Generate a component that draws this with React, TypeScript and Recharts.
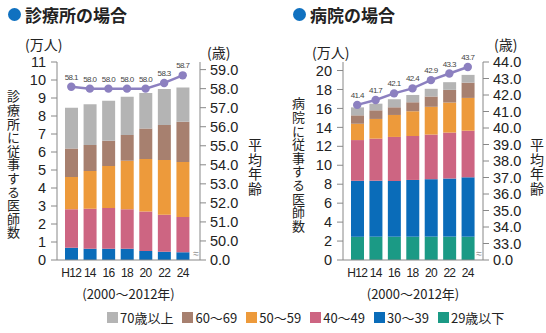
import React from 'react'
import { ComposedChart, Bar, Line, XAxis, YAxis, LabelList } from 'recharts'

const years = ['H12', '14', '16', '18', '20', '22', '24']
const ageGroups = ['29歳以下', '30〜39', '40〜49', '50〜59', '60〜69', '70歳以上']
const groupColors = ['#1b9a85', '#0a6cb9', '#cd6582', '#ed9a3b', '#a7806f', '#b4b4b4']

// 診療所 (万人)
const clinicUnder29 = [0, 0, 0, 0, 0, 0, 0]
const clinic30s = [0.68, 0.63, 0.63, 0.63, 0.5, 0.46, 0.43]
const clinic40s = [2.14, 2.22, 2.26, 2.19, 2.19, 2.06, 1.96]
const clinic50s = [1.79, 2.09, 2.33, 2.7, 2.92, 3.04, 3.05]
const clinic60s = [1.59, 1.45, 1.41, 1.42, 1.69, 1.94, 2.24]
const clinic70plus = [2.26, 2.26, 2.22, 2.13, 1.98, 2.0, 1.91]
const clinicAge = [58.1, 58.0, 58.0, 58.0, 58.0, 58.3, 58.7]

// 病院 (万人)
const hospUnder29 = [2.45, 2.46, 2.46, 2.46, 2.47, 2.47, 2.46]
const hosp30s = [5.91, 5.91, 5.88, 5.99, 6.06, 6.13, 6.27]
const hosp40s = [4.3, 4.44, 4.65, 4.64, 4.71, 4.85, 4.92]
const hosp50s = [1.72, 2.08, 2.32, 2.61, 2.93, 3.17, 3.46]
const hosp60s = [0.89, 0.91, 0.81, 0.95, 1.09, 1.34, 1.61]
const hosp70plus = [0.84, 0.7, 0.85, 0.77, 0.81, 0.81, 0.82]
const hospAge = [41.4, 41.7, 42.1, 42.4, 42.9, 43.3, 43.7]

const clinicCountTicks = [0, 1, 2, 3, 4, 5, 6, 7, 8, 9, 10, 11]
const clinicAgeTicks = [49, 50, 51, 52, 53, 54, 55, 56, 57, 58, 59]
const hospCountTicks = [0, 2, 4, 6, 8, 10, 12, 14, 16, 18, 20]
const hospAgeTicks = [32, 33, 34, 35, 36, 37, 38, 39, 40, 41, 42, 43, 44]

const buildRows = (groups: number[][], age: number[]) =>
  years.map((year, i) => {
    const row: any = { year, age: age[i] }
    groups.forEach((g, k) => (row['g' + k] = g[i]))
    return row
  })

const clinicData = buildRows(
  [clinicUnder29, clinic30s, clinic40s, clinic50s, clinic60s, clinic70plus],
  clinicAge
)
const hospData = buildRows(
  [hospUnder29, hosp30s, hosp40s, hosp50s, hosp60s, hosp70plus],
  hospAge
)

const NUM = "'Liberation Sans', Arial, sans-serif"
const JP = "'Noto Sans CJK JP', sans-serif"
const NARROW = "'Liberation Sans Narrow', 'Liberation Sans', sans-serif"

const AgeTick = (props: any) => {
  const { x, y, payload, min } = props
  const isBreak = payload.value === min
  return (
    <g>
      <text x={x} y={y} dy="0.36em" textAnchor="start" fontSize={14.5} fill="#222" fontFamily={NUM}>
        {isBreak ? '0.0' : Number(payload.value).toFixed(1)}
      </text>
      {isBreak && (
        <text x={x - 14} y={y - 7} dy="0.36em" textAnchor="middle" fontSize={10} fill="#888" fontFamily={NUM}>
          ≈
        </text>
      )}
    </g>
  )
}

interface PanelProps {
  data: any[]
  left: number
  leftWidth: number
  rightWidth: number
  countMax: number
  countTicks: number[]
  ageDomain: [number, number]
  ageTicks: number[]
  padding: { left: number; right: number }
}

function Panel({ data, left, leftWidth, rightWidth, countMax, countTicks, ageDomain, ageTicks, padding }: PanelProps) {
  return (
    <div style={{ position: 'absolute', left, top: 0 }}>
      <ComposedChart width={273} height={310} data={data} margin={{ top: 62, right: 0, bottom: 0, left: 0 }} barCategoryGap={0}>
        <XAxis
          dataKey="year"
          height={50}
          padding={padding}
          interval={0}
          tickLine={false}
          tickSize={0}
          tickMargin={8}
          stroke="#888"
          tick={{ fontSize: 12, fill: '#222', fontFamily: NARROW, letterSpacing: -0.7 }}
          label={{ value: '(2000〜2012年)', position: 'insideBottom', offset: 11, fontSize: 13, fill: '#222', fontFamily: JP }}
        />
        <YAxis
          yAxisId="count"
          width={leftWidth}
          domain={[0, countMax]}
          ticks={countTicks}
          allowDataOverflow
          interval={0}
          stroke="#888"
          tickSize={6}
          tickMargin={5}
          tick={{ fontSize: 14.5, fill: '#222', fontFamily: NUM }}
        />
        <YAxis
          yAxisId="age"
          orientation="right"
          width={rightWidth}
          domain={ageDomain}
          ticks={ageTicks}
          allowDataOverflow
          interval={0}
          stroke="#888"
          tickSize={6}
          tickMargin={4}
          tick={<AgeTick min={ageDomain[0]} />}
        />
        {ageGroups.map((name, k) => (
          <Bar
            key={name}
            yAxisId="count"
            dataKey={'g' + k}
            name={name}
            stackId="a"
            fill={groupColors[k]}
            barSize={13}
            isAnimationActive={false}
          />
        ))}
        <Line
          yAxisId="age"
          dataKey="age"
          stroke="#8c80c0"
          strokeWidth={2.5}
          dot={{ r: 4.2, fill: '#8c80c0', stroke: '#8c80c0', strokeWidth: 0 }}
          isAnimationActive={false}
        >
          <LabelList
            dataKey="age"
            position="top"
            offset={7}
            formatter={(v: any) => Number(v).toFixed(1)}
            style={{ fontSize: 8, fill: '#444', fontFamily: NARROW, letterSpacing: -0.6 }}
          />
        </Line>
      </ComposedChart>
    </div>
  )
}

const textBase: React.CSSProperties = { position: 'absolute', fontFamily: JP, color: '#222', whiteSpace: 'nowrap', lineHeight: 1 }

const Title = ({ x, text }: { x: number; text: string }) => (
  <div style={{ ...textBase, left: x, top: 6, display: 'flex', alignItems: 'center', fontSize: 17, fontWeight: 700 }}>
    <span style={{ width: 13, height: 13, borderRadius: '50%', background: '#1071c0', marginRight: 4 }} />
    {text}
  </div>
)

const Vertical = ({ x, y, text, size = 13, spacing = 0.6 }: { x: number; y: number; text: string; size?: number; spacing?: number }) => (
  <div style={{ ...textBase, left: x, top: y, writingMode: 'vertical-rl', fontSize: size, letterSpacing: spacing }}>{text}</div>
)

export default function App() {
  return (
    <div style={{ position: 'absolute', left: 0, top: 0, width: 546, height: 333, background: '#fff', overflow: 'hidden' }}>
      <Panel
        data={clinicData}
        left={0}
        leftWidth={57}
        rightWidth={73}
        countMax={11}
        countTicks={clinicCountTicks}
        ageDomain={[49, 59.4]}
        ageTicks={clinicAgeTicks}
        padding={{ left: 5, right: 8 }}
      />
      <Panel
        data={hospData}
        left={273}
        leftWidth={70}
        rightWidth={63}
        countMax={20.9}
        countTicks={hospCountTicks}
        ageDomain={[32, 44]}
        ageTicks={hospAgeTicks}
        padding={{ left: 5, right: 6 }}
      />

      <Title x={8} text="診療所の場合" />
      <Title x={293} text="病院の場合" />

      <div style={{ ...textBase, left: 25, top: 37, fontSize: 14 }}>(万人)</div>
      <div style={{ ...textBase, left: 207, top: 45, fontSize: 14 }}>(歳)</div>
      <div style={{ ...textBase, left: 312, top: 45, fontSize: 14 }}>(万人)</div>
      <div style={{ ...textBase, left: 494, top: 37, fontSize: 14 }}>(歳)</div>

      <Vertical x={7} y={90} text="診療所に従事する医師数" />
      <Vertical x={292} y={97} text="病院に従事する医師数" />
      <Vertical x={248} y={138} text="平均年齢" size={14} spacing={0.5} />
      <Vertical x={530} y={138} text="平均年齢" size={14} spacing={0.5} />

      <div style={{ ...textBase, left: 107, top: 311, display: 'flex', alignItems: 'center', fontSize: 13 }}>
        {ageGroups
          .map((name, k) => ({ name, color: groupColors[k] }))
          .reverse()
          .map((it) => (
            <div key={it.name} style={{ display: 'flex', alignItems: 'center', marginRight: 9 }}>
              <span style={{ width: 11, height: 11, background: it.color, marginRight: 2 }} />
              <span>{it.name}</span>
            </div>
          ))}
      </div>
    </div>
  )
}
